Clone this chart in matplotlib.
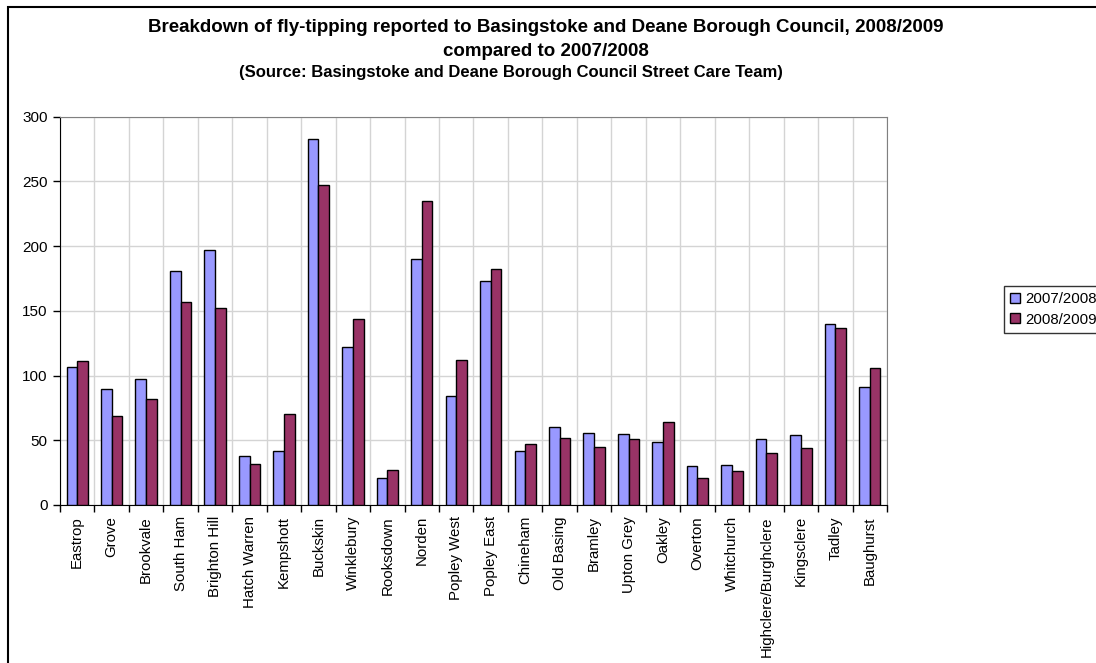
import matplotlib.pyplot as plt
import matplotlib.patches as patches
import numpy as np

plt.rcParams['font.family'] = ['Liberation Sans', 'DejaVu Sans']

wards = ['Eastrop', 'Grove', 'Brookvale', 'South Ham', 'Brighton Hill', 'Hatch Warren',
         'Kempshott', 'Buckskin', 'Winklebury', 'Rooksdown', 'Norden', 'Popley West',
         'Popley East', 'Chineham', 'Old Basing', 'Bramley', 'Upton Grey', 'Oakley',
         'Overton', 'Whitchurch', 'Highclere/Burghclere', 'Kingsclere', 'Tadley', 'Baughurst']
y0708 = [107, 90, 97, 181, 197, 38, 42, 283, 122, 21, 190, 84,
         173, 42, 60, 56, 55, 49, 30, 31, 51, 54, 140, 91]
y0809 = [111, 69, 82, 157, 152, 32, 70, 247, 144, 27, 235, 112,
         182, 47, 52, 45, 51, 64, 21, 26, 40, 44, 137, 106]
series = ['2007/2008', '2008/2009']
yticks = [0, 50, 100, 150, 200, 250, 300]

W, H = 1096, 663
fig = plt.figure(figsize=(W / 100, H / 100), dpi=100)
ax = fig.add_axes([60 / W, 1 - 505 / H, (887 - 60) / W, (505 - 116.7) / H])

x = np.arange(len(wards))
bw = 0.31
ax.bar(x - bw / 2, y0708, bw, color='#9999FF', edgecolor='black', linewidth=1,
       label=series[0], zorder=3)
ax.bar(x + bw / 2, y0809, bw, color='#993366', edgecolor='black', linewidth=1,
       label=series[1], zorder=3)

ax.set_xlim(-0.5, len(wards) - 0.5)
ax.set_ylim(0, 300)
ax.set_yticks(yticks)
ax.set_xticks(x)
ax.set_xticklabels(wards, rotation=90, fontsize=10.8)
ax.set_xticks(np.arange(-0.5, len(wards)), minor=True)
ax.tick_params(axis='x', which='major', length=0, pad=8)
ax.tick_params(axis='x', which='minor', length=5, width=1, direction='out')
ax.tick_params(axis='y', length=5, width=1, pad=4, labelsize=11)

ax.grid(axis='y', color='#D4D4D4', linewidth=1, zorder=0)
ax.grid(axis='x', which='minor', color='#D4D4D4', linewidth=1, zorder=0)
ax.set_axisbelow(True)
for side in ['top', 'right']:
    ax.spines[side].set_color('#808080')
for side in ['left', 'bottom']:
    ax.spines[side].set_color('black')

fig.text(546 / W, 1 - 28 / H,
         'Breakdown of fly-tipping reported to Basingstoke and Deane Borough Council, 2008/2009',
         ha='center', va='center', fontsize=13.5, fontweight='bold')
fig.text(546 / W, 1 - 52 / H, 'compared to 2007/2008',
         ha='center', va='center', fontsize=13.5, fontweight='bold')
fig.text(511 / W, 1 - 73 / H,
         '(Source: Basingstoke and Deane Borough Council Street Care Team)',
         ha='center', va='center', fontsize=12, fontweight='bold')

leg = fig.legend(loc='upper left', bbox_to_anchor=(1004 / W, 1 - 286 / H),
                 fontsize=10.8, frameon=True, fancybox=False, handlelength=0.65,
                 handleheight=0.65, handletextpad=0.35, borderpad=0.4,
                 labelspacing=0.45, borderaxespad=0)
leg.get_frame().set_edgecolor('black')
leg.get_frame().set_linewidth(1)

# chart border, running off the right and bottom edges
fig.patches.append(patches.Rectangle((8 / W, -0.1), 1.2, 1.1 - 7 / H,
                                     transform=fig.transFigure, fill=False,
                                     edgecolor='black', linewidth=1.5))

fig.savefig('out.png', dpi=100)
